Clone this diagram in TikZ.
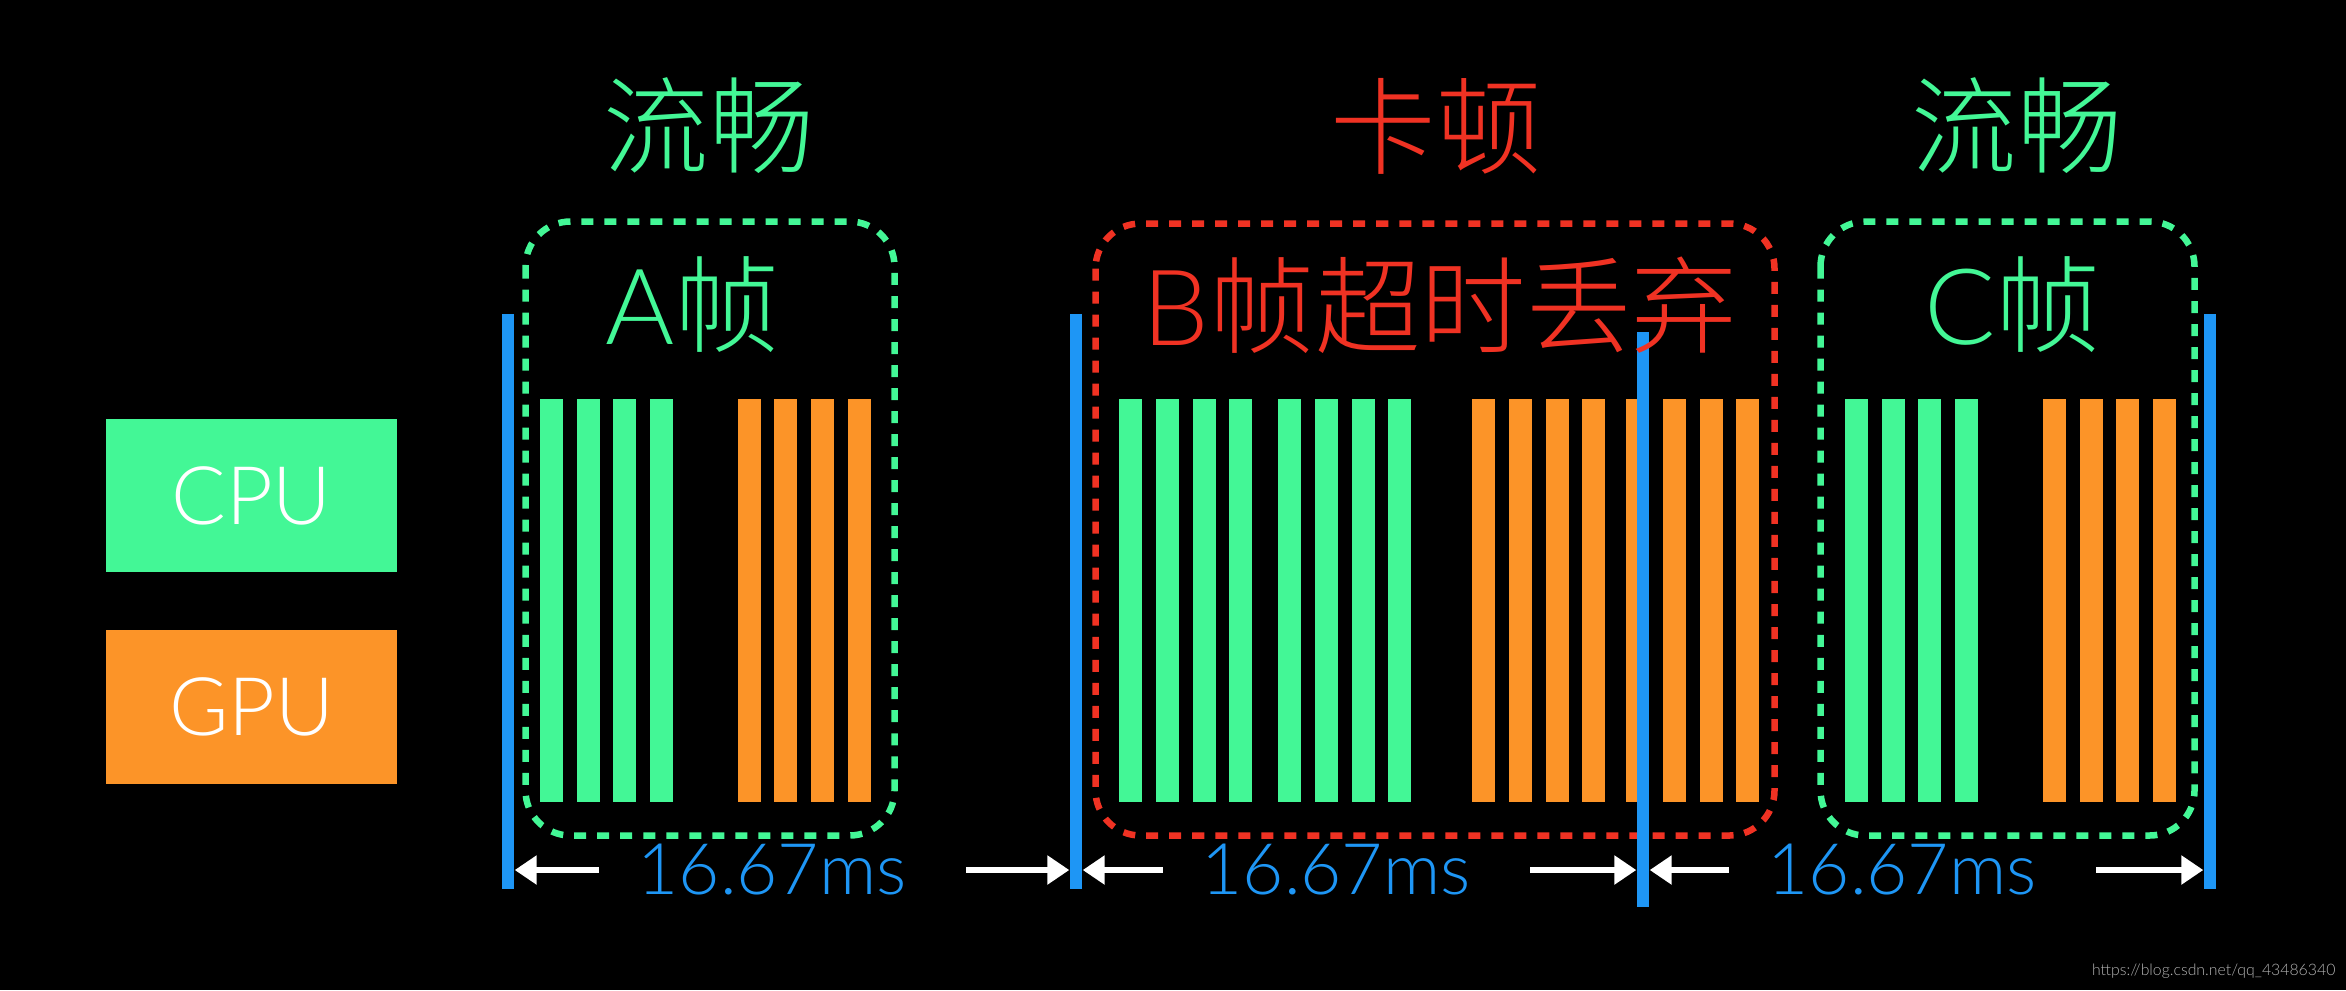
\documentclass[tikz,border=0pt]{standalone}
\usepackage{fontspec}
\setmainfont{Lato}[UprightFont={* Light}]
\newfontfamily\cjk{Noto Sans CJK SC}[UprightFont={* Light}]
\usetikzlibrary{arrows.meta}
\definecolor{cpugreen}{RGB}{67,247,150}
\definecolor{gpuorange}{RGB}{252,148,40}
\definecolor{vsyncblue}{RGB}{30,150,245}
\definecolor{lagred}{RGB}{240,50,35}

\begin{document}
\begin{tikzpicture}[
    % 1 个单位 = 1 像素, y 轴向下
    x=0.01cm, y=-0.01cm,
    % 图例方块: CPU / GPU
    legendbox/.style={
        rectangle, % 矩形
        minimum width=2.91cm, % 宽
        minimum height=1.53cm, % 高
        inner sep=0pt,
        text=white,
        font=\fontsize{23}{23}\selectfont
        },
    % 渲染条
    cpubar/.style={fill=cpugreen},
    gpubar/.style={fill=gpuorange},
    % 垂直同步信号(蓝色竖线)
    vsync/.style={
        rectangle,
        fill=vsyncblue,
        inner sep=0pt,
        minimum width=0.12cm,
        minimum height=5.75cm
        },
    % 帧的虚线框
    okbox/.style={
        draw=cpugreen,
        line width=0.065cm,
        dash pattern=on 0.12cm off 0.11cm,
        rounded corners=0.45cm
        },
    lagbox/.style={okbox, draw=lagred},
    % 大号文字
    headline/.style={font=\fontsize{30}{30}\selectfont, inner sep=0pt},
    % 时间标注 + 箭头
    mslabel/.style={text=vsyncblue, font=\fontsize{20.2}{20.2}\selectfont, inner sep=0pt},
    msarrow/.style={draw=white, line width=0.06cm, -{Triangle[length=0.22cm,width=0.28cm]}}
    ]
    % ========== 背景 ==========
    \fill[black] (0,0) rectangle (2346,990);
    \useasboundingbox (0,0) rectangle (2346,990);
    % ========== 图例 ==========
    \node[legendbox, fill=cpugreen] (cpu) at (251.5,495.5) {CPU};
    \node[legendbox, fill=gpuorange] (gpu) at (251.5,707) {GPU};
    % ========== 虚线框 ==========
    \draw[okbox] (525.5,221.5) rectangle (894.5,835.5);
    \draw[lagbox] (1095.5,223.5) rectangle (1774.5,835.5);
    \draw[okbox] (1820.5,221.5) rectangle (2194.5,835.5);
    % ========== 渲染条 ==========
    \foreach \x in {540,577,613,650, 1119,1156,1193,1229,1278,1315,1352,1388, 1845,1882,1918,1955}
        \fill[cpubar] (\x,399) rectangle ++(23,403);
    \foreach \x in {738,774,811,848, 1472,1509,1546,1582,1626,1663,1700,1736, 2043,2080,2116,2153}
        \fill[gpubar] (\x,399) rectangle ++(23,403);
    % ========== 垂直同步信号 ==========
    \foreach \name/\x/\y in {lineA/508/601.5, lineB/1076/601.5, lineC/1643/619.5, lineD/2210/601.5}
        \node[vsync] (\name) at (\x,\y) {};
    % ========== 16.67ms 标注 ==========
    \foreach \name/\x in {msA/772, msB/1336, msC/1902}
        \node[mslabel] (\name) at (\x,870) {16.67ms};
    \foreach \ms/\l/\r in {msA/lineA/lineB, msB/lineB/lineC, msC/lineC/lineD} {
        \draw[msarrow, shorten <=0.38cm] (\ms.west) -- (\ms.west -| \l.east);
        \draw[msarrow, shorten <=0.59cm] (\ms.east) -- (\ms.east -| \r.west);
    }
    % ========== 文字 ==========
    \node[headline, text=cpugreen] (smoothA) at (709,126) {\cjk 流畅};
    \node[headline, text=lagred] (jank) at (1436,126) {\cjk 卡顿};
    \node[headline, text=cpugreen] (smoothC) at (2017,126) {\cjk 流畅};
    \node[headline, text=cpugreen] (frameA) at (693,305) {A{\cjk 帧}};
    \node[headline, text=lagred] (frameB) at (1440,305) {B{\cjk 帧超时丢弃}};
    \node[headline, text=cpugreen] (frameC) at (2013,305) {C{\cjk 帧}};
    \node[anchor=east, inner sep=0pt, text=black!30!white, font=\fontsize{4.5}{4.5}\selectfont] (mark) at (2336,971) {https://blog.csdn.net/qq\_43486340};
\end{tikzpicture}
\end{document}
